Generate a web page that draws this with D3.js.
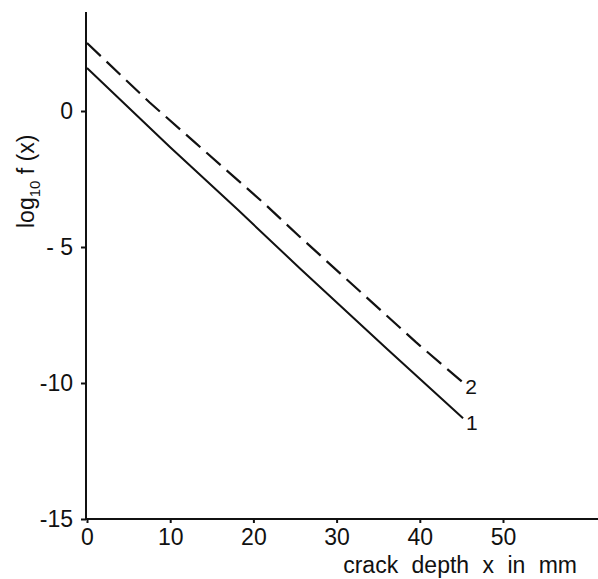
<!DOCTYPE html>
<meta charset="utf-8">
<script src="https://d3js.org/d3.v7.min.js"></script>
<style>
  body { margin: 0; background: #fff; }
  text { font-family: "Liberation Sans", Arial, sans-serif; fill: #111; }
</style>
<div id="my_dataviz"></div>
<script>

// data
var curve1X = [0, 10, 18.2, 25.6, 36.2, 45.2];
var curve1Y = [1.58, -1.33, -3.65, -5.79, -8.79, -11.3];
var curve2X = [0, 7.5, 13.1, 21.3, 25.6, 39.5, 45.1];
var curve2Y = [2.5, 0.32, -1.19, -3.4, -4.63, -8.49, -9.96];
var curveNames = ["1", "2"];

var xTicks = [0, 10, 20, 30, 40, 50];
var yTicks = [0, -5, -10, -15];
var yTickLabels = ["0", "- 5", "-10", "-15"];

var width = 598, height = 579;

var svg = d3.select("#my_dataviz")
  .append("svg")
    .attr("width", width)
    .attr("height", height);

// scales
var x = d3.scaleLinear().domain([0, 50]).range([87, 503]);
var y = d3.scaleLinear().domain([-15, 0]).range([519, 111]);

// x axis, runs out to the right edge
svg.append("line")
  .attr("x1", x(0) - 2).attr("x2", width)
  .attr("y1", y(-15)).attr("y2", y(-15))
  .attr("stroke", "#111").attr("stroke-width", 2);

var xAxis = svg.append("g")
  .attr("transform", "translate(0," + y(-15) + ")")
  .call(d3.axisBottom(x).tickValues(xTicks).tickSize(4).tickPadding(6));
xAxis.select(".domain").remove();
xAxis.selectAll(".tick line").attr("stroke", "#111").attr("stroke-width", 2);
xAxis.selectAll("text").style("font-size", "23px").attr("fill", "#111");

// y axis
svg.append("line")
  .attr("x1", x(0) - 1).attr("x2", x(0) - 1)
  .attr("y1", 12).attr("y2", y(-15) + 1)
  .attr("stroke", "#111").attr("stroke-width", 2);

var yAxis = svg.append("g")
  .attr("transform", "translate(" + (x(0) - 1) + ",0)")
  .call(d3.axisLeft(y).tickValues(yTicks).tickSize(5).tickPadding(8)
    .tickFormat(function(d, i) { return yTickLabels[i]; }));
yAxis.select(".domain").remove();
yAxis.selectAll(".tick line").attr("stroke", "#111").attr("stroke-width", 2);
yAxis.selectAll("text").style("font-size", "23px").attr("fill", "#111");

// curves
var line = d3.line()
  .x(function(d) { return x(d[0]); })
  .y(function(d) { return y(d[1]); });

var curve1 = d3.zip(curve1X, curve1Y);
var curve2 = d3.zip(curve2X, curve2Y);

svg.append("path")
  .datum(curve1)
  .attr("d", line)
  .attr("fill", "none")
  .attr("stroke", "#111")
  .attr("stroke-width", 2);

svg.append("path")
  .datum(curve2)
  .attr("d", line)
  .attr("fill", "none")
  .attr("stroke", "#111")
  .attr("stroke-width", 2.2)
  .attr("stroke-dasharray", "19,8");

// curve labels
[curve1, curve2].forEach(function(c, i) {
  var last = c[c.length - 1];
  svg.append("text")
    .attr("x", x(last[0]) + 3)
    .attr("y", y(last[1]) + 12)
    .style("font-size", "21px")
    .text(curveNames[i]);
});

// axis titles
svg.append("text")
  .attr("x", 577)
  .attr("y", 573)
  .style("text-anchor", "end")
  .style("font-size", "23px")
  .style("word-spacing", "7px")
  .text("crack depth x in mm");

var yTitle = svg.append("text")
  .attr("transform", "translate(34,228) rotate(-90)")
  .style("font-size", "23px");
yTitle.append("tspan").text("log");
yTitle.append("tspan").attr("dy", 6).style("font-size", "15px").text("10");
yTitle.append("tspan").attr("dy", -6).text(" f (x)");

</script>
